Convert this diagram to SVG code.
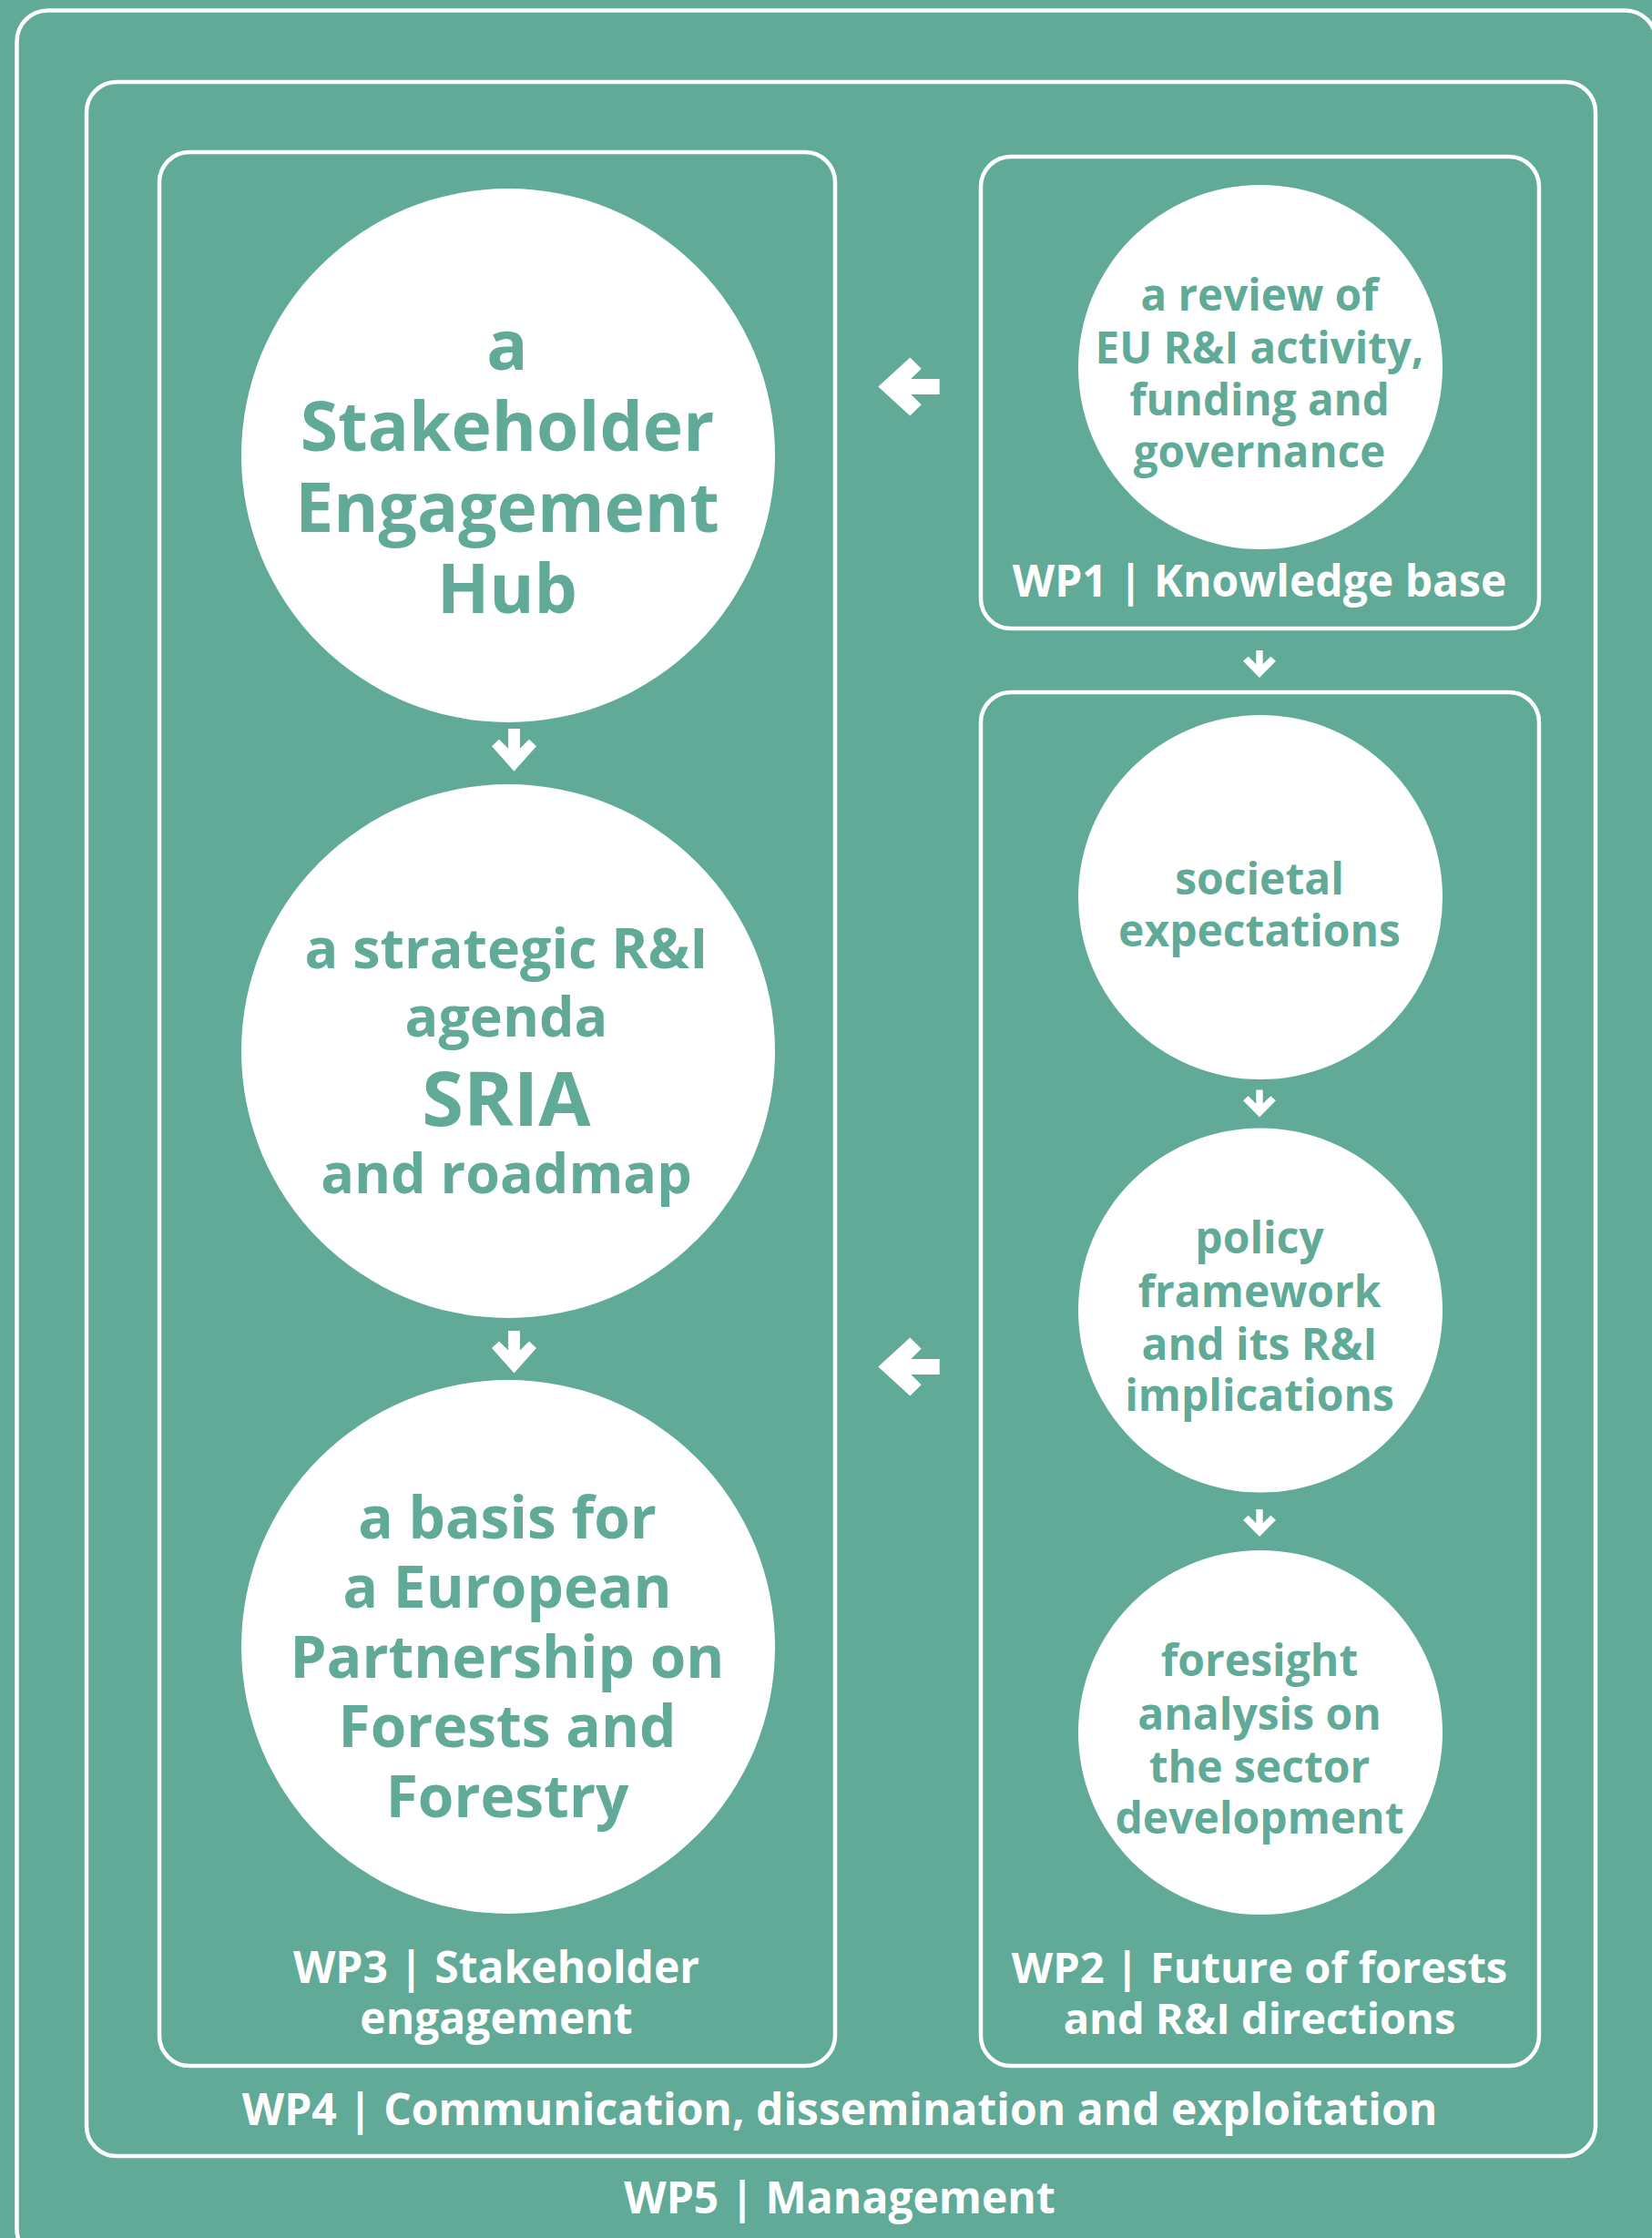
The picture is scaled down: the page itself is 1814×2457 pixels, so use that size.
<svg xmlns="http://www.w3.org/2000/svg" width="1814" height="2457" viewBox="0 0 1814 2457">
<defs>
<style>
.box{fill:none;stroke:#ffffff;stroke-width:4.5}
.circ{fill:#ffffff}
.ct{font-family:"Open Sans","Noto Sans","Liberation Sans",sans-serif;font-weight:700;fill:#60aa97;text-anchor:middle}
.lb{font-family:"Open Sans","Noto Sans","Liberation Sans",sans-serif;font-weight:700;fill:#ffffff;text-anchor:middle;font-size:48px}
.arr{fill:#ffffff}
</style>
<polygon id="arrLeft" points="0,0 35,-32 47.4,-19.8 36,-8.5 67.4,-8.5 67.4,8.5 36,8.5 47.4,19.8 35,32"/>
<polygon id="arrDownBig" points="0,0 -24.5,-27.5 -16.5,-35 -6.4,-25 -6.4,-46.7 6.4,-46.7 6.4,-25 16.5,-35 24.5,-27.5"/>
<polygon id="arrDownSmall" points="0,0 -18,-18.3 -12.3,-23.3 -3.7,-14.7 -3.7,-30 3.7,-30 3.7,-14.7 12.3,-23.3 18,-18.3"/>
</defs>
<rect x="0" y="0" width="1814" height="2457" fill="#60aa97"/>

<g id="wp5">
<rect class="box" x="18.5" y="11.5" width="1800" height="2470" rx="34"/>
<text class="lb" x="922" y="2430">WP5 | Management</text>
</g>

<g id="wp4">
<rect class="box" x="95" y="90" width="1657" height="2277" rx="33"/>
<text class="lb" x="922" y="2333">WP4 | Communication, dissemination and exploitation</text>
</g>

<g id="wp3">
<rect class="box" x="175" y="167" width="742" height="2101" rx="33"/>
<text class="lb" x="545" y="2177">WP3 | Stakeholder</text>
<text class="lb" x="545" y="2233">engagement</text>
</g>

<g id="wp1">
<rect class="box" x="1077" y="172" width="613" height="518" rx="33"/>
<text class="lb" x="1383" y="655">WP1 | Knowledge base</text>
</g>

<g id="wp2">
<rect class="box" x="1077" y="760" width="613" height="1508" rx="33"/>
<text class="lb" x="1383" y="2177" style="font-size:47px">WP2 | Future of forests</text>
<text class="lb" x="1383" y="2233" style="font-size:47px">and R&amp;I directions</text>
</g>

<g id="hub">
<circle class="circ" cx="558" cy="500" r="293"/>
<text class="ct" font-size="75"><tspan x="557" y="406">a</tspan><tspan x="557" y="495">Stakeholder</tspan><tspan x="557" y="584">Engagement</tspan><tspan x="557" y="673">Hub</tspan></text>
</g>

<g id="sria">
<circle class="circ" cx="558" cy="1154" r="293"/>
<text class="ct" font-size="61"><tspan x="556" y="1063">a strategic R&amp;I</tspan><tspan x="556" y="1138">agenda</tspan><tspan x="556" y="1236" font-size="83">SRIA</tspan><tspan x="556" y="1310">and roadmap</tspan></text>
</g>

<g id="partnership">
<circle class="circ" cx="558" cy="1808" r="293"/>
<text class="ct" font-size="64"><tspan x="557" y="1689">a basis for</tspan><tspan x="557" y="1765">a European</tspan><tspan x="557" y="1842">Partnership on</tspan><tspan x="557" y="1918">Forests and</tspan><tspan x="557" y="1995">Forestry</tspan></text>
</g>

<g id="review">
<circle class="circ" cx="1384" cy="403" r="200"/>
<text class="ct" font-size="47.5"><tspan x="1383" y="341">a review of</tspan><tspan x="1383" y="399">EU R&amp;I activity,</tspan><tspan x="1383" y="456">funding and</tspan><tspan x="1383" y="513">governance</tspan></text>
</g>

<g id="societal">
<circle class="circ" cx="1384" cy="985" r="200"/>
<text class="ct" font-size="48"><tspan x="1383" y="982">societal</tspan><tspan x="1383" y="1039">expectations</tspan></text>
</g>

<g id="policy">
<circle class="circ" cx="1384" cy="1438.5" r="200"/>
<text class="ct" font-size="48"><tspan x="1383" y="1376">policy</tspan><tspan x="1383" y="1435">framework</tspan><tspan x="1383" y="1493">and its R&amp;I</tspan><tspan x="1383" y="1549">implications</tspan></text>
</g>

<g id="foresight">
<circle class="circ" cx="1384" cy="1902" r="200"/>
<text class="ct" font-size="48"><tspan x="1383" y="1840">foresight</tspan><tspan x="1383" y="1899">analysis on</tspan><tspan x="1383" y="1957">the sector</tspan><tspan x="1383" y="2013">development</tspan></text>
</g>

<g id="connectors" class="arr">
<use href="#arrLeft" x="964.3" y="424.5"/>
<use href="#arrLeft" x="964.3" y="1500.5"/>
<use href="#arrDownBig" x="564.5" y="846.7"/>
<use href="#arrDownBig" x="564.5" y="1507.6"/>
<use href="#arrDownSmall" x="1383" y="744"/>
<use href="#arrDownSmall" x="1383" y="1226.5"/>
<use href="#arrDownSmall" x="1383" y="1687"/>
</g>
</svg>
